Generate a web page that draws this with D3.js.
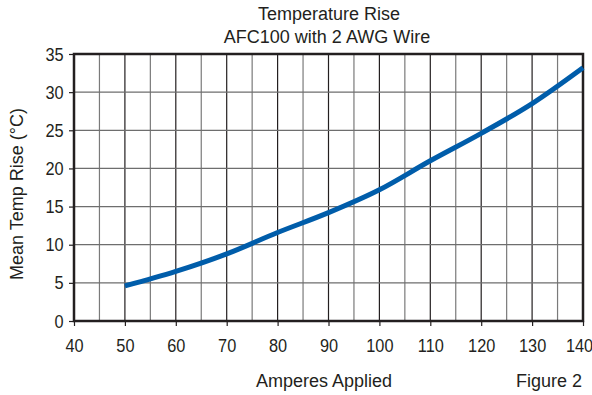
<!DOCTYPE html>
<html>
<head>
<meta charset="utf-8">
<script src="https://cdn.jsdelivr.net/npm/d3@7"></script>
<style>
  body { margin: 0; background: #fff; }
  svg text { font-family: "Liberation Sans", Arial, sans-serif; fill: #231f20; }
</style>
</head>
<body>
<div id="chart"></div>
<script>
// data
const amps = [50, 60, 70, 80, 90, 100, 110, 120, 130, 140];
const tempRise = [4.6, 6.5, 8.8, 11.6, 14.2, 17.2, 21.0, 24.6, 28.5, 33.2];
const xTicks = [40, 50, 60, 70, 80, 90, 100, 110, 120, 130, 140];
const yTicks = [0, 5, 10, 15, 20, 25, 30, 35];

const width = 592, height = 395;
const margin = {top: 54, right: 9, bottom: 74, left: 74};
const innerW = width - margin.left - margin.right,
      innerH = height - margin.top - margin.bottom;
const narrow = 0.86; // the source font is a condensed grotesque

const svg = d3.select('#chart').append('svg')
  .attr('width', width)
  .attr('height', height);

const x = d3.scaleLinear().domain([40, 140]).range([0, innerW]);
const y = d3.scaleLinear().domain([0, 35]).range([innerH, 0]);

const g = svg.append('g')
  .attr('transform', `translate(${margin.left},${margin.top})`);

// vertical grid every 5 A (the 10s darker)
g.selectAll('line.vgrid')
  .data(d3.range(45, 140, 5))
  .enter().append('line')
    .attr('x1', d => x(d)).attr('x2', d => x(d))
    .attr('y1', 0).attr('y2', innerH)
    .attr('stroke', d => d % 10 === 0 ? '#231f20' : '#7a7a7a')
    .attr('stroke-width', 1.2);

// horizontal grid
g.selectAll('line.hgrid')
  .data(yTicks.slice(1, -1))
  .enter().append('line')
    .attr('x1', 0).attr('x2', innerW)
    .attr('y1', d => y(d)).attr('y2', d => y(d))
    .attr('stroke', '#6e6e6e')
    .attr('stroke-width', 1.2);

// frame
g.append('rect')
  .attr('width', innerW).attr('height', innerH)
  .attr('fill', 'none')
  .attr('stroke', '#231f20')
  .attr('stroke-width', 2.5);

// axes
const xAxis = d3.axisBottom(x).tickValues(xTicks).tickSize(5).tickPadding(13);
const yAxis = d3.axisLeft(y).tickValues(yTicks).tickSize(5).tickPadding(7);

const xg = g.append('g').attr('transform', `translate(0,${innerH})`).call(xAxis);
const yg = g.append('g').call(yAxis);
[xg, yg].forEach(a => {
  a.select('.domain').remove();
  a.selectAll('.tick line').attr('stroke', '#231f20').attr('stroke-width', 1.2);
  a.selectAll('.tick text')
    .style('font-family', '"Liberation Sans", Arial, sans-serif')
    .style('font-size', '19px')
    .attr('fill', '#231f20')
    .attr('transform', `scale(${narrow},1)`);
});
// last label sits a little inside the frame edge
xg.selectAll('.tick text').filter(d => d === 140)
  .attr('transform', `translate(-4,0) scale(${narrow},1)`);

// curve
const line = d3.line()
  .x((d, i) => x(amps[i]))
  .y(d => y(d))
  .curve(d3.curveMonotoneX);

g.append('path')
  .datum(tempRise)
  .attr('d', line)
  .attr('fill', 'none')
  .attr('stroke', '#005daa')
  .attr('stroke-width', 5);

// labels
function label(tx, ty, str, anchor, rot) {
  svg.append('text')
    .attr('transform', `translate(${tx},${ty})` + (rot ? ` rotate(${rot})` : ''))
    .attr('text-anchor', anchor)
    .style('font-size', '18px')
    .text(str);
}
label(329, 20, 'Temperature Rise', 'middle');
label(327, 43, 'AFC100 with 2 AWG Wire', 'middle');
label(324, 387, 'Amperes Applied', 'middle');
label(582, 387, 'Figure 2', 'end');
label(23, 194, 'Mean Temp Rise (°C)', 'middle', -90);
</script>
</body>
</html>
